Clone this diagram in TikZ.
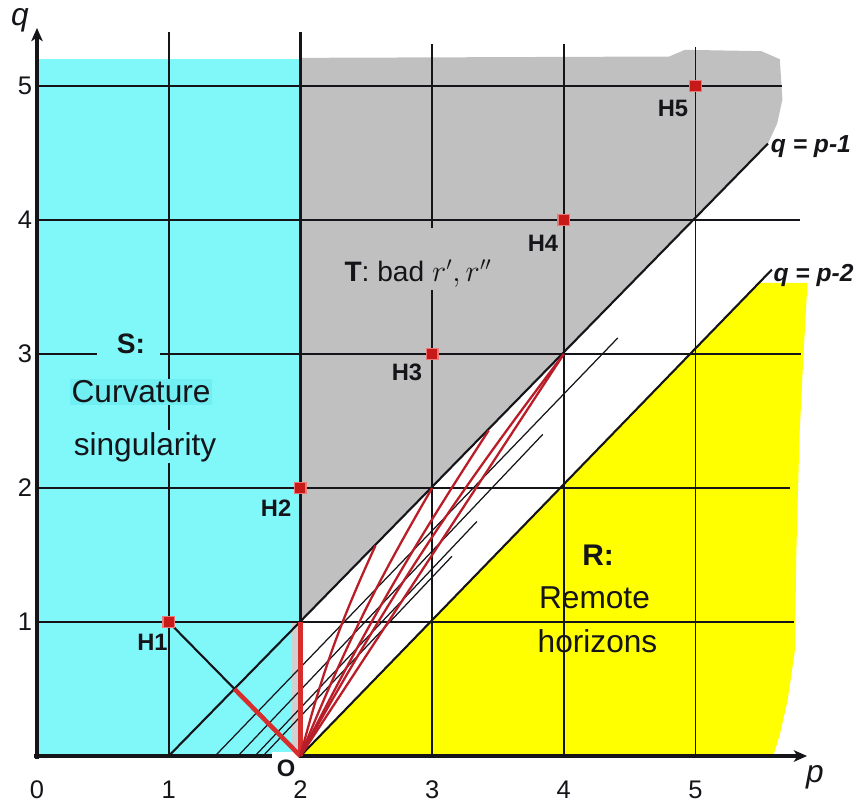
\documentclass[tikz,border=0pt]{standalone}
\usepackage{fontspec}
\setmainfont{Liberation Sans}
\usetikzlibrary{arrows.meta}
\definecolor{cyanfill}{RGB}{128,248,250}
\definecolor{cyandark}{RGB}{112,238,242}
\definecolor{grayfill}{RGB}{192,192,192}
\definecolor{graystrip}{RGB}{208,208,208}
\definecolor{yellowfill}{RGB}{255,255,0}
\definecolor{markred}{RGB}{200,25,25}
\definecolor{markhalo}{RGB}{235,120,120}
\definecolor{fanred}{RGB}{185,30,40}
\definecolor{thickredc}{RGB}{215,45,45}
\definecolor{ink}{RGB}{20,20,25}
\begin{document}
\begin{tikzpicture}[x=2.634cm,y=2.68cm,
  gridline/.style={draw=ink,line width=1.1pt},
  axisline/.style={draw=ink,line width=2.3pt},
  diagline/.style={draw=ink,line width=1.2pt},
  thinline/.style={draw=ink,line width=0.7pt},
  fanline/.style={draw=fanred,line width=1.3pt},
  thickred/.style={draw=thickredc,line width=2.6pt},
  marker/.style={rectangle,fill=markred,draw=markhalo,line width=0.8pt,minimum size=0.23cm,inner sep=0pt},
  hlabel/.style={font=\fontsize{13.5}{15}\selectfont\bfseries,text=ink,inner sep=0pt},
  ticklabel/.style={font=\fontsize{14.5}{16}\selectfont,text=ink,inner sep=0pt},
  region/.style={font=\fontsize{18}{20}\selectfont,text=ink,inner sep=0pt,anchor=base},
  eqlabel/.style={font=\fontsize{14}{16}\selectfont\bfseries\itshape,text=ink,inner sep=0pt,anchor=base west},
  axislabel/.style={font=\fontsize{18}{20}\selectfont\itshape,text=ink,inner sep=0pt},
]
\useasboundingbox (-0.2809,-0.3507) rectangle (6.3022,5.6418);

% ---------- regions ----------
\fill[cyanfill] (0,0) rectangle (2,5.2);
\fill[graystrip] (1.935,0) rectangle (2,1);
\fill[grayfill] (2,1) -- (2,5.21) -- (4.8,5.22) -- (4.92,5.27) -- (5.5,5.26) -- (5.64,5.2)
  -- (5.66,4.9) -- (5.62,4.72) -- (5.55,4.57) -- cycle;
\fill[yellowfill] (2,0) -- (5.48,3.53) -- (5.85,3.53) -- (5.82,3.0) -- (5.79,2.4)
  -- (5.765,1.5) -- (5.755,0.79) -- (5.7,0.42) -- (5.64,0.16) -- (5.59,0) -- cycle;

% ---------- grid ----------
\draw[gridline] (1,0) -- (1,5.40);
\draw[gridline] (3,0) -- (3,5.31);
\draw[gridline] (4,0) -- (4,5.31);
\draw[gridline] (5,0) -- (5,5.29);
\draw[gridline] (0,1) -- (5.75,1);
\draw[gridline] (0,2) -- (5.72,2);
\draw[gridline] (0,3) -- (5.80,3);
\draw[gridline] (0,4) -- (5.79,4);
\draw[gridline] (0,5) -- (5.66,5);
\draw[draw=ink,line width=1.7pt] (2,0) -- (2,5.40);

% patches behind labels
\fill[cyanfill] (0.456,2.98) rectangle (0.934,3.13);
\fill[grayfill] (2.377,3.478) rectangle (3.417,3.94);

% ---------- named points ----------
\coordinate (O) at (2,0);
\coordinate (X1) at (1.5,0.5);
\coordinate (P21) at (2,1);
\coordinate (A) at (2.57,1.57);
\coordinate (B) at (3,2);
\coordinate (C) at (3.43,2.43);
\coordinate (D) at (4,3);
\coordinate (L1s) at (1,0);
\coordinate (L1e) at (5.55,4.57);
\coordinate (L2e) at (5.58,3.63);
\coordinate (t1s) at (1.352,0);
\coordinate (t1e) at (4.41,3.12);
\coordinate (t2s) at (1.526,0);
\coordinate (t2e) at (3.84,2.40);
\coordinate (t3s) at (1.655,0);
\coordinate (t3e) at (3.34,1.75);
\coordinate (t4s) at (1.716,0);
\coordinate (t4e) at (3.15,1.49);
\coordinate (qtip) at (0,5.433);
\coordinate (ptip) at (5.847,0);

% ---------- diagonal lines ----------
\draw[diagline] (L1s) -- (L1e);
\draw[diagline] (O) -- (L2e);
\draw[thinline] (t1s) -- (t1e);
\draw[thinline] (t2s) -- (t2e);
\draw[thinline] (t3s) -- (t3e);
\draw[thinline] (t4s) -- (t4e);

% ---------- axes ----------
\draw[axisline,-{Stealth[length=7.5pt,width=6.5pt,inset=2pt]}] (0,-0.02) -- (qtip);
\draw[axisline,-{Stealth[length=7.5pt,width=6.5pt,inset=2pt]}] (-0.02,0) -- (ptip);
\fill[white] (1.785,-0.03) rectangle (1.99,0.03);

% ---------- markers ----------
\node[marker] (H1) at (1,1) {};
\node[marker] (H2) at (2,2) {};
\node[marker] (H3) at (3,3) {};
\node[marker] (H4) at (4,4) {};
\node[marker] (H5) at (5,5) {};

% ---------- red paths ----------
\draw[diagline] (H1.center) -- (X1);
\draw[thickred] (X1) -- (O);
\draw[thickred] (O) -- (P21);
\draw[fanline] (O) to[bend left=5] (A);
\draw[fanline] (O) to[bend left=4] (B);
\draw[fanline] (O) to[bend left=3] (C);
\draw[fanline] (O) to[bend left=4] (D);
\draw[fanline] (O) -- (D);
\node[marker] at (H1) {};

% ---------- labels ----------
\node[hlabel] (h1lab) at (0.877,0.85) {H1};
\node[hlabel] (h2lab) at (1.815,1.851) {H2};
\node[hlabel] (h3lab) at (2.809,2.866) {H3};
\node[hlabel] (h4lab) at (3.842,3.828) {H4};
\node[hlabel] (h5lab) at (4.829,4.836) {H5};

\node[ticklabel] (tx0) at (0,-0.25) {0};
\node[ticklabel] (tx1) at (1,-0.25) {1};
\node[ticklabel] (tx2) at (2,-0.25) {2};
\node[ticklabel] (tx3) at (3,-0.25) {3};
\node[ticklabel] (tx4) at (4,-0.25) {4};
\node[ticklabel] (tx5) at (5,-0.25) {5};
\node[ticklabel,anchor=east] (ty1) at (-0.035,1) {1};
\node[ticklabel,anchor=east] (ty2) at (-0.035,2) {2};
\node[ticklabel,anchor=east] (ty3) at (-0.035,3) {3};
\node[ticklabel,anchor=east] (ty4) at (-0.035,4) {4};
\node[ticklabel,anchor=east] (ty5) at (-0.035,5) {5};

\node[axislabel] (qlab) at (-0.129,5.493) {q};
\node[axislabel] (plab) at (5.907,-0.157) {p};
\node[font=\fontsize{13.5}{15}\selectfont\bfseries,text=ink,inner sep=0pt] (Olab) at (1.891,-0.09) {O};

\node[region,font=\fontsize{16}{18}\selectfont\bfseries] (Slab) at (0.714,3.007) {S:};
\node[region,fill=cyandark,inner sep=1pt] (curv) at (0.79,2.637) {Curvature};
\node[region,fill=cyanfill,inner sep=1pt] (sing) at (0.82,2.246) {singularity};
\node[region,font=\fontsize{16}{18}\selectfont] (Tlab) at (2.893,3.54) {\textbf{T}: bad $r',r''$};
\node[region,font=\fontsize{17}{19}\selectfont\bfseries] (Rlab) at (4.26,1.425) {R:};
\node[region] (rem) at (4.233,1.104) {Remote};
\node[region] (hor) at (4.256,0.776) {horizons};

\node[eqlabel] (e1) at (5.57,4.50) {q = p-1};
\node[eqlabel] (e2) at (5.59,3.54) {q = p-2};
\end{tikzpicture}
\end{document}
